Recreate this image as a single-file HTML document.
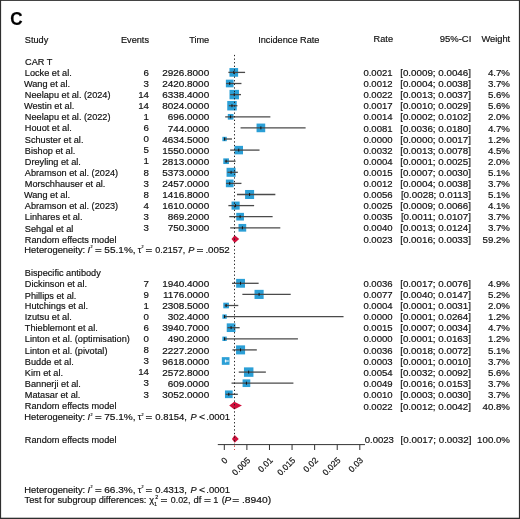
<!DOCTYPE html>
<html><head><meta charset="utf-8"><title>Forest plot C</title>
<style>
html,body{margin:0;padding:0;background:#fff;}
body{width:520px;height:519px;overflow:hidden;position:relative;}
svg{position:absolute;left:0;top:0;display:block;}
text{font-family:"Liberation Sans",Arial,Helvetica,sans-serif;font-size:9.4px;fill:#111;stroke:#111;stroke-width:0.18px;}
.lab{font-weight:bold;font-size:17.8px;fill:#000;}
</style></head><body>
<svg width="520" height="519" viewBox="0 0 520 519">
<rect x="0" y="0" width="520" height="519" fill="#fff"/>
<rect x="0" y="0" width="520" height="0.9" fill="#2e2e2e"/>
<rect x="0" y="0" width="1.1" height="519" fill="#2e2e2e"/>
<rect x="518.9" y="0" width="1.1" height="519" fill="#2e2e2e"/>
<rect x="0" y="517.7" width="520" height="1.3" fill="#2e2e2e"/>
<text transform="translate(10.3 24.7) scale(0.96 1)" class="lab">C</text>
<rect x="229.45" y="68.06" width="8.67" height="8.67" fill="#2b9fd6"/>
<line x1="228.37" y1="72.40" x2="245.08" y2="72.40" stroke="#4a4a4a" stroke-width="1.3"/>
<line x1="233.79" y1="70.90" x2="233.79" y2="73.90" stroke="#111" stroke-width="1"/>
<rect x="225.87" y="79.65" width="7.69" height="7.69" fill="#2b9fd6"/>
<line x1="226.11" y1="83.50" x2="241.46" y2="83.50" stroke="#4a4a4a" stroke-width="1.3"/>
<line x1="229.72" y1="82.00" x2="229.72" y2="85.00" stroke="#111" stroke-width="1"/>
<rect x="229.50" y="89.87" width="9.47" height="9.47" fill="#2b9fd6"/>
<line x1="230.17" y1="94.60" x2="241.01" y2="94.60" stroke="#4a4a4a" stroke-width="1.3"/>
<line x1="234.24" y1="93.10" x2="234.24" y2="96.10" stroke="#111" stroke-width="1"/>
<rect x="227.25" y="100.97" width="9.47" height="9.47" fill="#2b9fd6"/>
<line x1="228.82" y1="105.70" x2="237.40" y2="105.70" stroke="#4a4a4a" stroke-width="1.3"/>
<line x1="231.98" y1="104.20" x2="231.98" y2="107.20" stroke="#111" stroke-width="1"/>
<rect x="227.80" y="113.97" width="5.66" height="5.66" fill="#2b9fd6"/>
<line x1="225.20" y1="116.80" x2="270.37" y2="116.80" stroke="#4a4a4a" stroke-width="1.3"/>
<line x1="230.62" y1="115.30" x2="230.62" y2="118.30" stroke="#111" stroke-width="1"/>
<rect x="256.55" y="123.56" width="8.67" height="8.67" fill="#2b9fd6"/>
<line x1="240.56" y1="127.90" x2="305.61" y2="127.90" stroke="#4a4a4a" stroke-width="1.3"/>
<line x1="260.89" y1="126.40" x2="260.89" y2="129.40" stroke="#111" stroke-width="1"/>
<rect x="222.38" y="136.81" width="4.38" height="4.38" fill="#2b9fd6"/>
<line x1="224.30" y1="139.00" x2="231.98" y2="139.00" stroke="#4a4a4a" stroke-width="1.3"/>
<line x1="224.57" y1="137.50" x2="224.57" y2="140.50" stroke="#111" stroke-width="1"/>
<rect x="234.51" y="145.86" width="8.49" height="8.49" fill="#2b9fd6"/>
<line x1="230.17" y1="150.10" x2="259.53" y2="150.10" stroke="#4a4a4a" stroke-width="1.3"/>
<line x1="238.75" y1="148.60" x2="238.75" y2="151.60" stroke="#111" stroke-width="1"/>
<rect x="223.28" y="158.37" width="5.66" height="5.66" fill="#2b9fd6"/>
<line x1="224.75" y1="161.20" x2="235.59" y2="161.20" stroke="#4a4a4a" stroke-width="1.3"/>
<line x1="226.11" y1="159.70" x2="226.11" y2="162.70" stroke="#111" stroke-width="1"/>
<rect x="226.56" y="167.78" width="9.03" height="9.03" fill="#2b9fd6"/>
<line x1="227.46" y1="172.30" x2="237.85" y2="172.30" stroke="#4a4a4a" stroke-width="1.3"/>
<line x1="231.08" y1="170.80" x2="231.08" y2="173.80" stroke="#111" stroke-width="1"/>
<rect x="225.87" y="179.55" width="7.69" height="7.69" fill="#2b9fd6"/>
<line x1="226.11" y1="183.40" x2="241.46" y2="183.40" stroke="#4a4a4a" stroke-width="1.3"/>
<line x1="229.72" y1="181.90" x2="229.72" y2="184.90" stroke="#111" stroke-width="1"/>
<rect x="245.08" y="189.98" width="9.03" height="9.03" fill="#2b9fd6"/>
<line x1="236.95" y1="194.50" x2="275.34" y2="194.50" stroke="#4a4a4a" stroke-width="1.3"/>
<line x1="249.60" y1="193.00" x2="249.60" y2="196.00" stroke="#111" stroke-width="1"/>
<rect x="231.54" y="201.55" width="8.10" height="8.10" fill="#2b9fd6"/>
<line x1="228.37" y1="205.60" x2="254.11" y2="205.60" stroke="#4a4a4a" stroke-width="1.3"/>
<line x1="235.59" y1="204.10" x2="235.59" y2="207.10" stroke="#111" stroke-width="1"/>
<rect x="236.26" y="212.85" width="7.69" height="7.69" fill="#2b9fd6"/>
<line x1="229.27" y1="216.70" x2="272.63" y2="216.70" stroke="#4a4a4a" stroke-width="1.3"/>
<line x1="240.11" y1="215.20" x2="240.11" y2="218.20" stroke="#111" stroke-width="1"/>
<rect x="238.52" y="223.95" width="7.69" height="7.69" fill="#2b9fd6"/>
<line x1="230.17" y1="227.80" x2="280.31" y2="227.80" stroke="#4a4a4a" stroke-width="1.3"/>
<line x1="242.37" y1="226.30" x2="242.37" y2="229.30" stroke="#111" stroke-width="1"/>
<polygon points="231.53,239.10 234.69,235.20 239.21,239.10 234.69,243.00" fill="#cf0f3b"/>
<rect x="236.13" y="278.87" width="8.85" height="8.85" fill="#2b9fd6"/>
<line x1="231.98" y1="283.30" x2="258.63" y2="283.30" stroke="#4a4a4a" stroke-width="1.3"/>
<line x1="240.56" y1="281.80" x2="240.56" y2="284.80" stroke="#111" stroke-width="1"/>
<rect x="254.52" y="289.84" width="9.12" height="9.12" fill="#2b9fd6"/>
<line x1="242.37" y1="294.40" x2="290.70" y2="294.40" stroke="#4a4a4a" stroke-width="1.3"/>
<line x1="259.08" y1="292.90" x2="259.08" y2="295.90" stroke="#111" stroke-width="1"/>
<rect x="223.28" y="302.67" width="5.66" height="5.66" fill="#2b9fd6"/>
<line x1="224.75" y1="305.50" x2="238.30" y2="305.50" stroke="#4a4a4a" stroke-width="1.3"/>
<line x1="226.11" y1="304.00" x2="226.11" y2="307.00" stroke="#111" stroke-width="1"/>
<rect x="222.38" y="314.41" width="4.38" height="4.38" fill="#2b9fd6"/>
<line x1="224.75" y1="316.60" x2="343.55" y2="316.60" stroke="#4a4a4a" stroke-width="1.3"/>
<line x1="224.57" y1="315.10" x2="224.57" y2="318.10" stroke="#111" stroke-width="1"/>
<rect x="226.74" y="323.36" width="8.67" height="8.67" fill="#2b9fd6"/>
<line x1="227.46" y1="327.70" x2="239.66" y2="327.70" stroke="#4a4a4a" stroke-width="1.3"/>
<line x1="231.08" y1="326.20" x2="231.08" y2="329.20" stroke="#111" stroke-width="1"/>
<rect x="222.38" y="336.61" width="4.38" height="4.38" fill="#2b9fd6"/>
<line x1="224.75" y1="338.80" x2="297.93" y2="338.80" stroke="#4a4a4a" stroke-width="1.3"/>
<line x1="224.57" y1="337.30" x2="224.57" y2="340.30" stroke="#111" stroke-width="1"/>
<rect x="236.04" y="345.38" width="9.03" height="9.03" fill="#2b9fd6"/>
<line x1="232.43" y1="349.90" x2="256.82" y2="349.90" stroke="#4a4a4a" stroke-width="1.3"/>
<line x1="240.56" y1="348.40" x2="240.56" y2="351.40" stroke="#111" stroke-width="1"/>
<rect x="221.81" y="357.15" width="7.69" height="7.69" fill="#2b9fd6"/>
<line x1="224.75" y1="361.00" x2="228.82" y2="361.00" stroke="#fff" stroke-width="1.0"/>
<line x1="225.66" y1="359.50" x2="225.66" y2="362.50" stroke="#fff" stroke-width="1"/>
<rect x="243.96" y="367.37" width="9.47" height="9.47" fill="#2b9fd6"/>
<line x1="238.75" y1="372.10" x2="265.86" y2="372.10" stroke="#4a4a4a" stroke-width="1.3"/>
<line x1="248.69" y1="370.60" x2="248.69" y2="373.60" stroke="#111" stroke-width="1"/>
<rect x="242.59" y="379.35" width="7.69" height="7.69" fill="#2b9fd6"/>
<line x1="231.53" y1="383.20" x2="293.41" y2="383.20" stroke="#4a4a4a" stroke-width="1.3"/>
<line x1="246.43" y1="381.70" x2="246.43" y2="384.70" stroke="#111" stroke-width="1"/>
<rect x="224.97" y="390.45" width="7.69" height="7.69" fill="#2b9fd6"/>
<line x1="225.66" y1="394.30" x2="237.85" y2="394.30" stroke="#4a4a4a" stroke-width="1.3"/>
<line x1="228.82" y1="392.80" x2="228.82" y2="395.80" stroke="#111" stroke-width="1"/>
<polygon points="229.22,405.60 234.24,401.70 241.92,405.60 234.24,409.50" fill="#cf0f3b"/>
<polygon points="231.98,438.90 234.69,435.00 238.75,438.90 234.69,442.80" fill="#cf0f3b"/>
<line x1="234.5" y1="54.9" x2="234.5" y2="444" stroke="#222" stroke-width="1" stroke-dasharray="1.3 2.3"/><line x1="234.5" y1="445.5" x2="234.5" y2="450" stroke="#c33" stroke-width="1" stroke-dasharray="1.3 2.3"/>
<line x1="217.8" y1="444.6" x2="365" y2="444.6" stroke="#333" stroke-width="1"/>
<line x1="224.30" y1="444.6" x2="224.30" y2="450" stroke="#333" stroke-width="1"/>
<text transform="translate(228.20 460.8) rotate(-45)" text-anchor="end" style="font-size:8.6px">0</text>
<line x1="246.89" y1="444.6" x2="246.89" y2="450" stroke="#333" stroke-width="1"/>
<text transform="translate(250.79 460.8) rotate(-45)" text-anchor="end" style="font-size:8.6px">0.005</text>
<line x1="269.47" y1="444.6" x2="269.47" y2="450" stroke="#333" stroke-width="1"/>
<text transform="translate(273.37 460.8) rotate(-45)" text-anchor="end" style="font-size:8.6px">0.01</text>
<line x1="292.06" y1="444.6" x2="292.06" y2="450" stroke="#333" stroke-width="1"/>
<text transform="translate(295.95 460.8) rotate(-45)" text-anchor="end" style="font-size:8.6px">0.015</text>
<line x1="314.64" y1="444.6" x2="314.64" y2="450" stroke="#333" stroke-width="1"/>
<text transform="translate(318.54 460.8) rotate(-45)" text-anchor="end" style="font-size:8.6px">0.02</text>
<line x1="337.23" y1="444.6" x2="337.23" y2="450" stroke="#333" stroke-width="1"/>
<text transform="translate(341.12 460.8) rotate(-45)" text-anchor="end" style="font-size:8.6px">0.025</text>
<line x1="359.81" y1="444.6" x2="359.81" y2="450" stroke="#333" stroke-width="1"/>
<text transform="translate(363.71 460.8) rotate(-45)" text-anchor="end" style="font-size:8.6px">0.03</text>
<text transform="translate(24.80 42.70) scale(0.978 1)">Study</text>
<text transform="translate(149.00 42.70) scale(0.978 1)" text-anchor="end">Events</text>
<text transform="translate(209.20 42.70) scale(0.978 1)" text-anchor="end">Time</text>
<text transform="translate(288.80 42.70) scale(0.978 1)" text-anchor="middle">Incidence Rate</text>
<text transform="translate(393.00 42.20) scale(0.978 1)" text-anchor="end">Rate</text>
<text transform="translate(471.30 42.20) scale(1.01 1)" text-anchor="end">95%-CI</text>
<text transform="translate(510.20 42.20) scale(0.99 1)" text-anchor="end">Weight</text>
<text transform="translate(25.00 64.90) scale(0.978 1)">CAR T</text>
<text transform="translate(24.80 76.00) scale(0.978 1)">Locke et al.</text>
<text transform="translate(149.00 75.60) scale(1.034 1)" text-anchor="end">6</text>
<text transform="translate(209.20 76.00) scale(1.06 1)" text-anchor="end">2926.8000</text>
<text transform="translate(392.60 76.00) scale(1.015 1)" text-anchor="end">0.0021</text>
<text transform="translate(471.00 76.00) scale(1.044 1)" text-anchor="end">[0.0009; 0.0046]</text>
<text transform="translate(510.00 76.00) scale(1.032 1)" text-anchor="end">4.7%</text>
<text transform="translate(23.90 87.10) scale(0.978 1)">Wang et al.</text>
<text transform="translate(149.00 86.70) scale(1.034 1)" text-anchor="end">3</text>
<text transform="translate(209.20 87.10) scale(1.06 1)" text-anchor="end">2420.8000</text>
<text transform="translate(392.60 87.10) scale(1.015 1)" text-anchor="end">0.0012</text>
<text transform="translate(471.00 87.10) scale(1.044 1)" text-anchor="end">[0.0004; 0.0038]</text>
<text transform="translate(510.00 87.10) scale(1.032 1)" text-anchor="end">3.7%</text>
<text transform="translate(24.80 98.20) scale(0.978 1)">Neelapu et al. (2024)</text>
<text transform="translate(149.00 97.80) scale(1.034 1)" text-anchor="end">14</text>
<text transform="translate(209.20 98.20) scale(1.06 1)" text-anchor="end">6338.4000</text>
<text transform="translate(392.60 98.20) scale(1.015 1)" text-anchor="end">0.0022</text>
<text transform="translate(471.00 98.20) scale(1.044 1)" text-anchor="end">[0.0013; 0.0037]</text>
<text transform="translate(510.00 98.20) scale(1.032 1)" text-anchor="end">5.6%</text>
<text transform="translate(23.90 109.30) scale(0.978 1)">Westin et al.</text>
<text transform="translate(149.00 108.90) scale(1.034 1)" text-anchor="end">14</text>
<text transform="translate(209.20 109.30) scale(1.06 1)" text-anchor="end">8024.0000</text>
<text transform="translate(392.60 108.50) scale(1.015 1)" text-anchor="end">0.0017</text>
<text transform="translate(471.00 108.50) scale(1.044 1)" text-anchor="end">[0.0010; 0.0029]</text>
<text transform="translate(510.00 108.50) scale(1.032 1)" text-anchor="end">5.6%</text>
<text transform="translate(24.80 120.40) scale(0.978 1)">Neelapu et al. (2022)</text>
<text transform="translate(149.00 120.00) scale(1.034 1)" text-anchor="end">1</text>
<text transform="translate(209.20 120.40) scale(1.06 1)" text-anchor="end">696.0000</text>
<text transform="translate(392.60 120.40) scale(1.015 1)" text-anchor="end">0.0014</text>
<text transform="translate(471.00 120.40) scale(1.044 1)" text-anchor="end">[0.0002; 0.0102]</text>
<text transform="translate(510.00 120.40) scale(1.032 1)" text-anchor="end">2.0%</text>
<text transform="translate(24.80 130.70) scale(0.978 1)">Houot et al.</text>
<text transform="translate(149.00 131.10) scale(1.034 1)" text-anchor="end">6</text>
<text transform="translate(209.20 131.50) scale(1.06 1)" text-anchor="end">744.0000</text>
<text transform="translate(392.60 131.50) scale(1.015 1)" text-anchor="end">0.0081</text>
<text transform="translate(471.00 131.50) scale(1.044 1)" text-anchor="end">[0.0036; 0.0180]</text>
<text transform="translate(510.00 131.50) scale(1.032 1)" text-anchor="end">4.7%</text>
<text transform="translate(24.80 142.60) scale(0.978 1)">Schuster et al.</text>
<text transform="translate(149.00 142.20) scale(1.034 1)" text-anchor="end">0</text>
<text transform="translate(209.20 142.60) scale(1.06 1)" text-anchor="end">4634.5000</text>
<text transform="translate(392.60 142.60) scale(1.015 1)" text-anchor="end">0.0000</text>
<text transform="translate(471.00 142.60) scale(1.044 1)" text-anchor="end">[0.0000; 0.0017]</text>
<text transform="translate(510.00 142.60) scale(1.032 1)" text-anchor="end">1.2%</text>
<text transform="translate(24.80 153.70) scale(0.978 1)">Bishop et al.</text>
<text transform="translate(149.00 153.30) scale(1.034 1)" text-anchor="end">5</text>
<text transform="translate(209.20 153.70) scale(1.06 1)" text-anchor="end">1550.0000</text>
<text transform="translate(392.60 153.70) scale(1.015 1)" text-anchor="end">0.0032</text>
<text transform="translate(471.00 153.70) scale(1.044 1)" text-anchor="end">[0.0013; 0.0078]</text>
<text transform="translate(510.00 153.70) scale(1.032 1)" text-anchor="end">4.5%</text>
<text transform="translate(24.80 164.80) scale(0.978 1)">Dreyling et al.</text>
<text transform="translate(149.00 164.40) scale(1.034 1)" text-anchor="end">1</text>
<text transform="translate(209.20 164.80) scale(1.06 1)" text-anchor="end">2813.0000</text>
<text transform="translate(392.60 164.80) scale(1.015 1)" text-anchor="end">0.0004</text>
<text transform="translate(471.00 164.80) scale(1.044 1)" text-anchor="end">[0.0001; 0.0025]</text>
<text transform="translate(510.00 164.80) scale(1.032 1)" text-anchor="end">2.0%</text>
<text transform="translate(24.80 175.90) scale(0.978 1)">Abramson et al. (2024)</text>
<text transform="translate(149.00 175.50) scale(1.034 1)" text-anchor="end">8</text>
<text transform="translate(209.20 175.90) scale(1.06 1)" text-anchor="end">5373.0000</text>
<text transform="translate(392.60 175.90) scale(1.015 1)" text-anchor="end">0.0015</text>
<text transform="translate(471.00 175.90) scale(1.044 1)" text-anchor="end">[0.0007; 0.0030]</text>
<text transform="translate(510.00 175.90) scale(1.032 1)" text-anchor="end">5.1%</text>
<text transform="translate(24.80 187.00) scale(0.978 1)">Morschhauser et al.</text>
<text transform="translate(149.00 186.60) scale(1.034 1)" text-anchor="end">3</text>
<text transform="translate(209.20 187.00) scale(1.06 1)" text-anchor="end">2457.0000</text>
<text transform="translate(392.60 187.00) scale(1.015 1)" text-anchor="end">0.0012</text>
<text transform="translate(471.00 187.00) scale(1.044 1)" text-anchor="end">[0.0004; 0.0038]</text>
<text transform="translate(510.00 187.00) scale(1.032 1)" text-anchor="end">3.7%</text>
<text transform="translate(23.90 198.10) scale(0.978 1)">Wang et al.</text>
<text transform="translate(149.00 197.70) scale(1.034 1)" text-anchor="end">8</text>
<text transform="translate(209.20 198.10) scale(1.06 1)" text-anchor="end">1416.8000</text>
<text transform="translate(392.60 198.10) scale(1.015 1)" text-anchor="end">0.0056</text>
<text transform="translate(471.00 198.10) scale(1.044 1)" text-anchor="end">[0.0028; 0.0113]</text>
<text transform="translate(510.00 198.10) scale(1.032 1)" text-anchor="end">5.1%</text>
<text transform="translate(24.80 209.20) scale(0.978 1)">Abramson et al. (2023)</text>
<text transform="translate(149.00 208.80) scale(1.034 1)" text-anchor="end">4</text>
<text transform="translate(209.20 209.20) scale(1.06 1)" text-anchor="end">1610.0000</text>
<text transform="translate(392.60 209.20) scale(1.015 1)" text-anchor="end">0.0025</text>
<text transform="translate(471.00 209.20) scale(1.044 1)" text-anchor="end">[0.0009; 0.0066]</text>
<text transform="translate(510.00 209.20) scale(1.032 1)" text-anchor="end">4.1%</text>
<text transform="translate(24.80 220.30) scale(0.978 1)">Linhares et al.</text>
<text transform="translate(149.00 219.90) scale(1.034 1)" text-anchor="end">3</text>
<text transform="translate(209.20 220.30) scale(1.06 1)" text-anchor="end">869.2000</text>
<text transform="translate(392.60 220.30) scale(1.015 1)" text-anchor="end">0.0035</text>
<text transform="translate(471.00 220.30) scale(1.044 1)" text-anchor="end">[0.0011; 0.0107]</text>
<text transform="translate(510.00 220.30) scale(1.032 1)" text-anchor="end">3.7%</text>
<text transform="translate(24.80 232.20) scale(0.978 1)">Sehgal et al</text>
<text transform="translate(149.00 231.00) scale(1.034 1)" text-anchor="end">3</text>
<text transform="translate(209.20 231.40) scale(1.06 1)" text-anchor="end">750.3000</text>
<text transform="translate(392.60 231.40) scale(1.015 1)" text-anchor="end">0.0040</text>
<text transform="translate(471.00 231.40) scale(1.044 1)" text-anchor="end">[0.0013; 0.0124]</text>
<text transform="translate(510.00 231.40) scale(1.032 1)" text-anchor="end">3.7%</text>
<text transform="translate(24.80 242.50) scale(0.978 1)">Random effects model</text>
<text transform="translate(392.60 242.50) scale(1.015 1)" text-anchor="end">0.0023</text>
<text transform="translate(471.00 242.50) scale(1.044 1)" text-anchor="end">[0.0016; 0.0033]</text>
<text transform="translate(510.00 242.50) scale(1.032 1)" text-anchor="end">59.2%</text>
<text transform="translate(24.36 253.00) scale(1.019 1)" style="font-size:9.2px;">Heterogeneity:</text>
<text transform="translate(87.50 253.00) scale(1.000 1)" style="font-size:9.2px;font-style:italic">I</text>
<text transform="translate(90.49 248.40) scale(0.894 1)" style="font-size:4.2px;">2</text>
<text transform="translate(94.93 253.00) scale(1.254 1)" style="font-size:9.2px;">=</text>
<text transform="translate(104.33 253.00) scale(1.093 1)" style="font-size:9.2px;">55.1%,</text>
<text transform="translate(137.80 253.00) scale(1.000 1)" style="font-size:9.2px;">τ</text>
<text transform="translate(141.39 248.40) scale(0.894 1)" style="font-size:4.2px;">2</text>
<text transform="translate(145.43 253.00) scale(1.254 1)" style="font-size:9.2px;">=</text>
<text transform="translate(155.36 253.00) scale(0.975 1)" style="font-size:9.2px;">0.2157,</text>
<text transform="translate(188.35 253.00) scale(1.000 1)" style="font-size:9.2px;font-style:italic">P</text>
<text transform="translate(196.41 253.00) scale(1.297 1)" style="font-size:9.2px;">=</text>
<text transform="translate(205.40 253.00) scale(1.061 1)" style="font-size:9.2px;">.0052</text>
<text transform="translate(24.80 275.80) scale(0.978 1)">Bispecific antibody</text>
<text transform="translate(24.80 286.90) scale(0.978 1)">Dickinson et al.</text>
<text transform="translate(149.00 286.50) scale(1.034 1)" text-anchor="end">7</text>
<text transform="translate(209.20 286.90) scale(1.06 1)" text-anchor="end">1940.4000</text>
<text transform="translate(392.60 286.90) scale(1.015 1)" text-anchor="end">0.0036</text>
<text transform="translate(471.00 286.90) scale(1.044 1)" text-anchor="end">[0.0017; 0.0076]</text>
<text transform="translate(510.00 286.90) scale(1.032 1)" text-anchor="end">4.9%</text>
<text transform="translate(24.80 298.60) scale(0.978 1)">Phillips et al.</text>
<text transform="translate(149.00 297.60) scale(1.034 1)" text-anchor="end">9</text>
<text transform="translate(209.20 298.00) scale(1.06 1)" text-anchor="end">1176.0000</text>
<text transform="translate(392.60 298.00) scale(1.015 1)" text-anchor="end">0.0077</text>
<text transform="translate(471.00 298.00) scale(1.044 1)" text-anchor="end">[0.0040; 0.0147]</text>
<text transform="translate(510.00 298.00) scale(1.032 1)" text-anchor="end">5.2%</text>
<text transform="translate(24.80 309.10) scale(0.978 1)">Hutchings et al.</text>
<text transform="translate(149.00 308.70) scale(1.034 1)" text-anchor="end">1</text>
<text transform="translate(209.20 309.10) scale(1.06 1)" text-anchor="end">2308.5000</text>
<text transform="translate(392.60 309.10) scale(1.015 1)" text-anchor="end">0.0004</text>
<text transform="translate(471.00 309.10) scale(1.044 1)" text-anchor="end">[0.0001; 0.0031]</text>
<text transform="translate(510.00 309.10) scale(1.032 1)" text-anchor="end">2.0%</text>
<text transform="translate(24.80 320.20) scale(0.978 1)">Izutsu et al.</text>
<text transform="translate(149.00 319.80) scale(1.034 1)" text-anchor="end">0</text>
<text transform="translate(209.20 320.20) scale(1.06 1)" text-anchor="end">302.4000</text>
<text transform="translate(392.60 320.20) scale(1.015 1)" text-anchor="end">0.0000</text>
<text transform="translate(471.00 320.20) scale(1.044 1)" text-anchor="end">[0.0001; 0.0264]</text>
<text transform="translate(510.00 320.20) scale(1.032 1)" text-anchor="end">1.2%</text>
<text transform="translate(24.80 331.30) scale(0.978 1)">Thieblemont et al.</text>
<text transform="translate(149.00 330.90) scale(1.034 1)" text-anchor="end">6</text>
<text transform="translate(209.20 331.30) scale(1.06 1)" text-anchor="end">3940.7000</text>
<text transform="translate(392.60 331.30) scale(1.015 1)" text-anchor="end">0.0015</text>
<text transform="translate(471.00 331.30) scale(1.044 1)" text-anchor="end">[0.0007; 0.0034]</text>
<text transform="translate(510.00 331.30) scale(1.032 1)" text-anchor="end">4.7%</text>
<text transform="translate(24.80 341.80) scale(0.978 1)">Linton et al. (optimisation)</text>
<text transform="translate(149.00 342.00) scale(1.034 1)" text-anchor="end">0</text>
<text transform="translate(209.20 342.40) scale(1.06 1)" text-anchor="end">490.2000</text>
<text transform="translate(392.60 342.40) scale(1.015 1)" text-anchor="end">0.0000</text>
<text transform="translate(471.00 342.40) scale(1.044 1)" text-anchor="end">[0.0001; 0.0163]</text>
<text transform="translate(510.00 342.40) scale(1.032 1)" text-anchor="end">1.2%</text>
<text transform="translate(24.80 353.50) scale(0.978 1)">Linton et al. (pivotal)</text>
<text transform="translate(149.00 353.10) scale(1.034 1)" text-anchor="end">8</text>
<text transform="translate(209.20 353.50) scale(1.06 1)" text-anchor="end">2227.2000</text>
<text transform="translate(392.60 353.50) scale(1.015 1)" text-anchor="end">0.0036</text>
<text transform="translate(471.00 353.50) scale(1.044 1)" text-anchor="end">[0.0018; 0.0072]</text>
<text transform="translate(510.00 353.50) scale(1.032 1)" text-anchor="end">5.1%</text>
<text transform="translate(24.80 364.60) scale(0.978 1)">Budde et al.</text>
<text transform="translate(149.00 364.20) scale(1.034 1)" text-anchor="end">3</text>
<text transform="translate(209.20 364.60) scale(1.06 1)" text-anchor="end">9618.0000</text>
<text transform="translate(392.60 364.60) scale(1.015 1)" text-anchor="end">0.0003</text>
<text transform="translate(471.00 364.60) scale(1.044 1)" text-anchor="end">[0.0001; 0.0010]</text>
<text transform="translate(510.00 364.60) scale(1.032 1)" text-anchor="end">3.7%</text>
<text transform="translate(24.80 375.70) scale(0.978 1)">Kim et al.</text>
<text transform="translate(149.00 375.30) scale(1.034 1)" text-anchor="end">14</text>
<text transform="translate(209.20 375.70) scale(1.06 1)" text-anchor="end">2572.8000</text>
<text transform="translate(392.60 375.70) scale(1.015 1)" text-anchor="end">0.0054</text>
<text transform="translate(471.00 375.70) scale(1.044 1)" text-anchor="end">[0.0032; 0.0092]</text>
<text transform="translate(510.00 375.70) scale(1.032 1)" text-anchor="end">5.6%</text>
<text transform="translate(24.80 386.80) scale(0.978 1)">Bannerji et al.</text>
<text transform="translate(149.00 386.40) scale(1.034 1)" text-anchor="end">3</text>
<text transform="translate(209.20 386.80) scale(1.06 1)" text-anchor="end">609.0000</text>
<text transform="translate(392.60 386.80) scale(1.015 1)" text-anchor="end">0.0049</text>
<text transform="translate(471.00 386.80) scale(1.044 1)" text-anchor="end">[0.0016; 0.0153]</text>
<text transform="translate(510.00 386.80) scale(1.032 1)" text-anchor="end">3.7%</text>
<text transform="translate(24.80 397.90) scale(0.978 1)">Matasar et al.</text>
<text transform="translate(149.00 397.50) scale(1.034 1)" text-anchor="end">3</text>
<text transform="translate(209.20 397.90) scale(1.06 1)" text-anchor="end">3052.0000</text>
<text transform="translate(392.60 397.90) scale(1.015 1)" text-anchor="end">0.0010</text>
<text transform="translate(471.00 397.90) scale(1.044 1)" text-anchor="end">[0.0003; 0.0030]</text>
<text transform="translate(510.00 397.90) scale(1.032 1)" text-anchor="end">3.7%</text>
<text transform="translate(24.80 409.00) scale(0.978 1)">Random effects model</text>
<text transform="translate(392.60 410.00) scale(1.015 1)" text-anchor="end">0.0022</text>
<text transform="translate(471.00 410.00) scale(1.044 1)" text-anchor="end">[0.0012; 0.0042]</text>
<text transform="translate(510.00 410.00) scale(1.032 1)" text-anchor="end">40.8%</text>
<text transform="translate(24.36 420.10) scale(1.019 1)" style="font-size:9.2px;">Heterogeneity:</text>
<text transform="translate(87.50 420.10) scale(1.000 1)" style="font-size:9.2px;font-style:italic">I</text>
<text transform="translate(90.49 415.50) scale(0.894 1)" style="font-size:4.2px;">2</text>
<text transform="translate(94.93 420.10) scale(1.254 1)" style="font-size:9.2px;">=</text>
<text transform="translate(104.19 420.10) scale(1.098 1)" style="font-size:9.2px;">75.1%,</text>
<text transform="translate(137.80 420.10) scale(1.000 1)" style="font-size:9.2px;">τ</text>
<text transform="translate(141.39 415.50) scale(0.894 1)" style="font-size:4.2px;">2</text>
<text transform="translate(145.43 420.10) scale(1.254 1)" style="font-size:9.2px;">=</text>
<text transform="translate(155.34 420.10) scale(1.032 1)" style="font-size:9.2px;">0.8154,</text>
<text transform="translate(190.55 420.10) scale(1.000 1)" style="font-size:9.2px;font-style:italic">P</text>
<text transform="translate(198.98 420.10) scale(1.124 1)" style="font-size:9.2px;">&lt;</text>
<text transform="translate(206.33 420.10) scale(1.029 1)" style="font-size:9.2px;">.0001</text>
<text transform="translate(24.80 442.90) scale(0.978 1)">Random effects model</text>
<text transform="translate(393.90 443.10) scale(1.015 1)" text-anchor="end">0.0023</text>
<text transform="translate(471.39 443.10) scale(1.044 1)" text-anchor="end">[0.0017; 0.0032]</text>
<text transform="translate(510.00 443.10) scale(1.032 1)" text-anchor="end">100.0%</text>
<text transform="translate(24.36 493.00) scale(1.019 1)" style="font-size:9.2px;">Heterogeneity:</text>
<text transform="translate(87.50 493.00) scale(1.000 1)" style="font-size:9.2px;font-style:italic">I</text>
<text transform="translate(90.49 488.40) scale(0.894 1)" style="font-size:4.2px;">2</text>
<text transform="translate(94.93 493.00) scale(1.254 1)" style="font-size:9.2px;">=</text>
<text transform="translate(104.19 493.00) scale(1.098 1)" style="font-size:9.2px;">66.3%,</text>
<text transform="translate(137.80 493.00) scale(1.000 1)" style="font-size:9.2px;">τ</text>
<text transform="translate(141.39 488.40) scale(0.894 1)" style="font-size:4.2px;">2</text>
<text transform="translate(145.43 493.00) scale(1.254 1)" style="font-size:9.2px;">=</text>
<text transform="translate(155.34 493.00) scale(1.032 1)" style="font-size:9.2px;">0.4313,</text>
<text transform="translate(190.55 493.00) scale(1.000 1)" style="font-size:9.2px;font-style:italic">P</text>
<text transform="translate(198.98 493.00) scale(1.124 1)" style="font-size:9.2px;">&lt;</text>
<text transform="translate(206.33 493.00) scale(1.029 1)" style="font-size:9.2px;">.0001</text>
<text transform="translate(24.57 503.30) scale(1.008 1)" style="font-size:9.2px;">Test for subgroup differences:</text>
<text transform="translate(149.20 503.30) scale(1.000 1)" style="font-size:9.2px;">χ</text>
<text transform="translate(155.26 498.50) scale(1.156 1)" style="font-size:4.6px;">2</text>
<text transform="translate(154.35 506.40) scale(1.000 1)" style="font-size:4.6px;">1</text>
<text transform="translate(160.51 503.30) scale(1.297 1)" style="font-size:9.2px;">=</text>
<text transform="translate(170.76 503.30) scale(0.962 1)" style="font-size:9.2px;">0.02,</text>
<text transform="translate(193.49 503.30) scale(1.027 1)" style="font-size:9.2px;">df</text>
<text transform="translate(204.11 503.30) scale(1.297 1)" style="font-size:9.2px;">=</text>
<text transform="translate(213.28 503.30) scale(1.000 1)" style="font-size:9.2px;">1</text>
<text transform="translate(221.75 503.30) scale(1.000 1)" style="font-size:9.2px;">(</text>
<text transform="translate(224.48 503.30) scale(1.089 1)" style="font-size:9.2px;font-style:italic">P</text>
<text transform="translate(232.21 503.30) scale(1.297 1)" style="font-size:9.2px;">=</text>
<text transform="translate(241.91 503.30) scale(1.122 1)" style="font-size:9.2px;">.8940)</text>
</svg>
</body></html>
